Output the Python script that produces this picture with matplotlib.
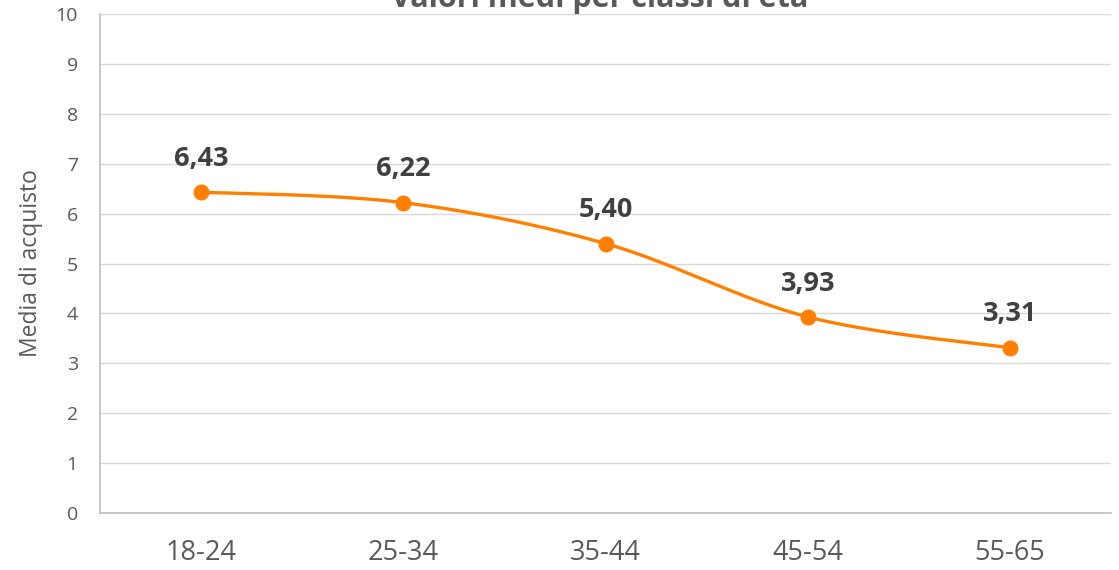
import numpy as np
import matplotlib.pyplot as plt

plt.rcParams['font.family'] = ['Open Sans', 'DejaVu Sans']

classi = ['18-24', '25-34', '35-44', '45-54', '55-65']
medie = [6.43, 6.22, 5.40, 3.93, 3.31]
etichette = ['6,43', '6,22', '5,40', '3,93', '3,31']

arancio = '#FF8000'
grigio = '#595959'


def smooth_curve(x, y, steps=40):
    # Catmull-Rom spline through the points, like a smoothed office line
    x = np.asarray(x, float)
    y = np.asarray(y, float)
    px = np.concatenate([[x[0]], x, [x[-1]]])
    py = np.concatenate([[y[0]], y, [y[-1]]])
    xs, ys = [], []
    t = np.linspace(0, 1, steps)
    for i in range(1, len(px) - 2):
        p0, p1, p2, p3 = [np.array([px[j], py[j]]) for j in range(i - 1, i + 3)]
        c1 = p1 + (p2 - p0) / 6
        c2 = p2 - (p3 - p1) / 6
        b = ((1 - t) ** 3)[:, None] * p1 + (3 * (1 - t) ** 2 * t)[:, None] * c1 \
            + (3 * (1 - t) * t ** 2)[:, None] * c2 + (t ** 3)[:, None] * p2
        xs.extend(b[:, 0])
        ys.extend(b[:, 1])
    return np.array(xs), np.array(ys)


fig = plt.figure(figsize=(11.19, 5.70), dpi=100)
ax = fig.add_axes([100 / 1119, 0.1, 1011 / 1119, 0.8754])

pos = np.arange(len(classi))
sx, sy = smooth_curve(pos, medie)
ax.plot(sx, sy, color=arancio, linewidth=2.4, zorder=3)
ax.plot(pos, medie, 'o', color=arancio, markersize=10.5, zorder=4)

for xi, yi, lab in zip(pos, medie, etichette):
    ax.annotate(lab, (xi, yi), xytext=(0, 19), textcoords='offset points',
                ha='center', va='baseline', fontsize=19.5, fontweight='bold',
                color='#404040')

ax.set_xlim(-0.5, len(classi) - 0.5)
ax.set_ylim(0, 10)
ax.set_yticks(range(0, 11))
ax.set_xticks(pos)
ax.set_xticklabels(classi)
ax.grid(axis='y', color='#D9D9D9', linewidth=1)
ax.set_axisbelow(True)

for s in ['top', 'right']:
    ax.spines[s].set_visible(False)
ax.spines['left'].set_color('#BFBFBF')
ax.spines['bottom'].set_color('#BFBFBF')
ax.spines['left'].set_linewidth(1.2)
ax.spines['bottom'].set_linewidth(1.2)

ax.tick_params(axis='y', length=0, pad=16, labelsize=14, labelcolor=grigio)
ax.tick_params(axis='x', length=0, pad=19, labelsize=19.5, labelcolor=grigio)
ax.set_ylabel('Media di acquisto', fontsize=16.5, color=grigio, labelpad=9)

fig.text(0.536, 0.988, 'Valori medi per classi di età', ha='center', va='baseline',
         fontsize=22, fontweight='bold', color=grigio)

fig.savefig('out.png', dpi=100)
